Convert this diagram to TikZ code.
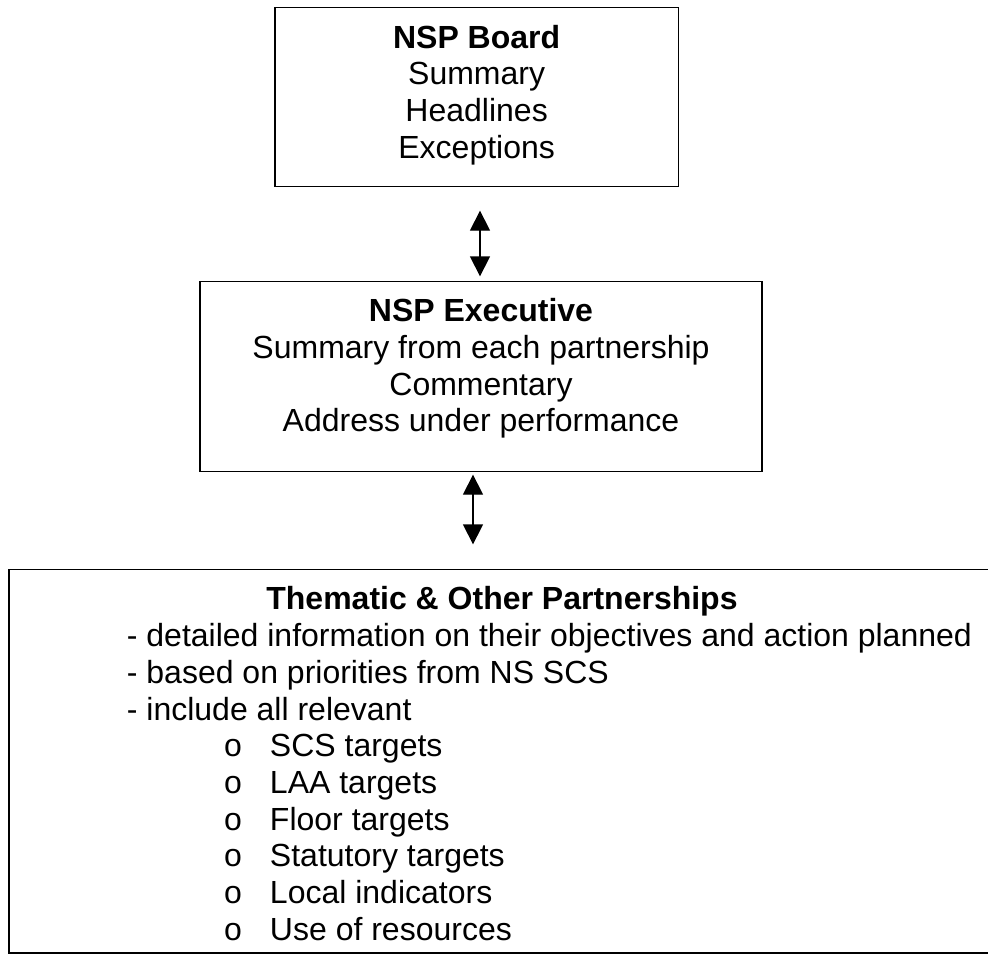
\documentclass[tikz,border=0pt]{standalone}
\usepackage{fontspec}
\setmainfont{Liberation Sans}
\usetikzlibrary{arrows.meta}
\begin{document}
\begin{tikzpicture}[x=1pt,y=-1pt,
  boxstyle/.style={draw, line width=1.3pt, inner sep=0pt},
  txt/.style={inner sep=0pt, anchor=base, font=\fontsize{32}{36.7}\selectfont},
  txtl/.style={txt, anchor=base west},
  dbl/.style={{Triangle[width=20pt,length=20pt]}-{Triangle[width=20pt,length=20pt]}, line width=1.3pt}]
\useasboundingbox (0,0) rectangle (988,955);
% boxes
\node[boxstyle, minimum width=403.3pt, minimum height=179.4pt] (b1) at (476.65,97) {};
\node[boxstyle, minimum width=562pt, minimum height=190pt] (b2) at (481,376.7) {};
\node[boxstyle, minimum width=986pt, minimum height=383.7pt] (b3) at (502,761.15) {};
% texts
\node[txt] (t1) at (476.65,48.3) {\begin{tabular}[t]{@{}c@{}}\textbf{NSP Board}\\Summary\\Headlines\\Exceptions\end{tabular}};
\node[txt] (t2) at (481,321.7) {\begin{tabular}[t]{@{}c@{}}\textbf{NSP Executive}\\Summary from each partnership\\Commentary\\Address under performance\end{tabular}};
\node[txt] (t3) at (502,609.5) {\textbf{Thematic \& Other Partnerships}};
\node[txtl] (t4) at (126.7,646.7) {\begin{tabular}[t]{@{}l@{}}- detailed information on their objectives and action planned\\- based on priorities from NS SCS\\- include all relevant\end{tabular}};
\node[txtl] (t5) at (224,756.7) {\begin{tabular}[t]{@{}l@{}}\makebox[45.8pt][l]{o}SCS targets\\\makebox[45.8pt][l]{o}LAA targets\\\makebox[45.8pt][l]{o}Floor targets\\\makebox[45.8pt][l]{o}Statutory targets\\\makebox[45.8pt][l]{o}Local indicators\\\makebox[45.8pt][l]{o}Use of resources\end{tabular}};
% connectors
\draw[dbl, shorten <=23.3pt, shorten >=4.7pt] ([xshift=3.35pt]b1.south) -- ([xshift=3.35pt]b1.south |- b2.north);
\draw[dbl, shorten <=2.3pt, shorten >=24.3pt] ([xshift=-8pt]b2.south) -- ([xshift=-8pt]b2.south |- b3.north);
\end{tikzpicture}
\end{document}
